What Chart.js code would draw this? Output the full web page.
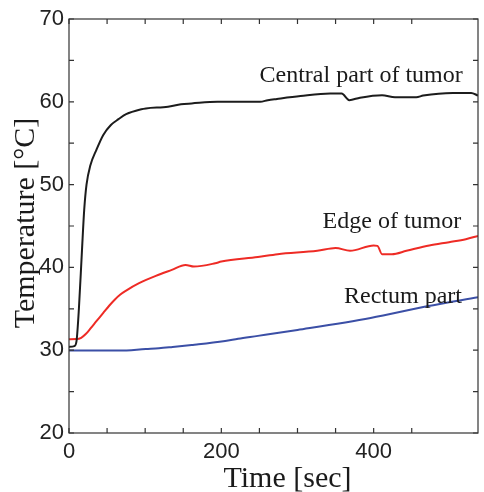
<!DOCTYPE html>
<html>
<head>
<meta charset="utf-8">
<script src="https://cdn.jsdelivr.net/npm/chart.js@4/dist/chart.umd.min.js"></script>
<style>
  html, body { margin: 0; padding: 0; background: #fff; }
  #wrap { width: 484px; height: 492px; position: relative; }
</style>
</head>
<body>
<div id="wrap"><canvas id="tempChart"></canvas></div>
<script>
// time [sec] / temperature [°C]
const centralTime = [0, 7, 10, 13, 17, 20, 23, 28, 36, 45, 55, 65, 75, 95, 101, 130, 147, 161, 195, 251, 261, 273, 304, 343, 358, 368, 382, 411, 428, 456, 465, 504, 528, 537];
const centralTemp = [30.4, 30.5, 31.2, 35, 42, 47, 50, 52.3, 54.2, 56, 57.2, 57.9, 58.5, 59.1, 59.2, 59.4, 59.7, 59.8, 60.0, 60.0, 60.2, 60.35, 60.7, 61.0, 61.0, 60.2, 60.5, 60.8, 60.55, 60.55, 60.75, 61.07, 61.07, 60.75];

const edgeTime = [0, 10, 16, 22, 28, 36, 45, 53, 60, 67, 75, 92, 114, 135, 153, 164, 192, 200, 248, 274, 326, 350, 369, 400, 405, 411, 424, 443, 473, 499, 521, 537];
const edgeTemp = [31.33, 31.35, 31.5, 31.95, 32.6, 33.5, 34.5, 35.4, 36.1, 36.7, 37.2, 38.09, 38.98, 39.7, 40.3, 40.1, 40.5, 40.7, 41.25, 41.6, 42.0, 42.35, 42.0, 42.65, 42.6, 41.6, 41.6, 42.0, 42.65, 43.05, 43.4, 43.8];

const rectumTime = [0, 66, 101, 118, 136, 161, 170, 205, 222, 248, 300, 396, 470, 537];
const rectumTemp = [29.95, 29.95, 30.15, 30.24, 30.4, 30.64, 30.72, 31.12, 31.38, 31.73, 32.45, 33.9, 35.3, 36.4];

const seriesNames = ['Central part of tumor', 'Edge of tumor', 'Rectum part'];
const seriesColors = ['#1c1c1c', '#ee2b25', '#3b4fa6'];
// where each label sits: right end in time, baseline in temperature
const labelAt = [[517, 62.45], [515, 44.8], [516, 35.75]];

const xTicksLabeled = [0, 200, 400];
const yTicksLabeled = [20, 30, 40, 50, 60, 70];

const toPoints = (ts, vs) => ts.map((t, i) => ({ x: t, y: vs[i] }));

const frameAndTicks = {
    id: 'frameAndTicks',
    afterDraw(chart) {
        const { ctx, chartArea: a, scales: { x, y } } = chart;
        ctx.save();
        ctx.strokeStyle = '#333';
        ctx.lineWidth = 1.2;
        ctx.strokeRect(a.left, a.top, a.right - a.left, a.bottom - a.top);
        const len = 5;
        ctx.beginPath();
        x.ticks.forEach(t => {
            if (t.value % 50 !== 0) return;
            const px = x.getPixelForValue(t.value);
            ctx.moveTo(px, a.bottom); ctx.lineTo(px, a.bottom - len);
            ctx.moveTo(px, a.top); ctx.lineTo(px, a.top + len);
        });
        y.ticks.forEach(t => {
            const py = y.getPixelForValue(t.value);
            ctx.moveTo(a.left, py); ctx.lineTo(a.left + len, py);
            ctx.moveTo(a.right, py); ctx.lineTo(a.right - len, py);
        });
        ctx.stroke();

        // curve labels
        ctx.fillStyle = '#1a1a1a';
        ctx.font = '24px "Liberation Serif", "Times New Roman", serif';
        ctx.textAlign = 'right';
        ctx.textBaseline = 'alphabetic';
        seriesNames.forEach((name, i) => {
            ctx.fillText(name, x.getPixelForValue(labelAt[i][0]), y.getPixelForValue(labelAt[i][1]));
        });

        // axis titles
        ctx.font = '30px "Liberation Serif", "Times New Roman", serif';
        ctx.textAlign = 'center';
        ctx.fillText('Time [sec]', (a.left + a.right) / 2 + 14, 487);
        ctx.translate(34, (a.top + a.bottom) / 2 - 3);
        ctx.rotate(-Math.PI / 2);
        ctx.fillText('Temperature [°C]', 0, 0);
        ctx.restore();
    }
};

const tickFont = { family: '"Liberation Sans", Arial, sans-serif', size: 22 };

new Chart(document.getElementById('tempChart'), {
    type: 'line',
    data: {
        datasets: [
            { label: seriesNames[0], data: toPoints(centralTime, centralTemp) },
            { label: seriesNames[1], data: toPoints(edgeTime, edgeTemp) },
            { label: seriesNames[2], data: toPoints(rectumTime, rectumTemp) }
        ].map((d, i) => Object.assign(d, {
            borderColor: seriesColors[i],
            borderWidth: 2,
            pointRadius: 0,
            cubicInterpolationMode: 'monotone',
            fill: false
        }))
    },
    options: {
        responsive: true,
        maintainAspectRatio: false,
        animation: false,
        layout: { padding: { top: 19, right: 1, left: 0, bottom: 0 } },
        plugins: { legend: { display: false }, tooltip: { enabled: false } },
        scales: {
            x: {
                type: 'linear',
                min: 0,
                max: 537,
                grid: { display: false, drawTicks: false },
                border: { display: false },
                afterFit: s => { s.height = 59; },
                ticks: {
                    stepSize: 50,
                    padding: 6,
                    color: '#222',
                    font: tickFont,
                    maxRotation: 0,
                    autoSkip: false,
                    callback: v => xTicksLabeled.includes(v) ? String(v) : ''
                }
            },
            y: {
                min: 20,
                max: 70,
                grid: { display: false, drawTicks: false },
                border: { display: false },
                afterFit: s => { s.width = 69; },
                ticks: {
                    stepSize: 5,
                    padding: 5,
                    color: '#222',
                    font: tickFont,
                    autoSkip: false,
                    callback: v => yTicksLabeled.includes(v) ? String(v) : ''
                }
            }
        }
    },
    plugins: [frameAndTicks]
});
</script>
</body>
</html>
